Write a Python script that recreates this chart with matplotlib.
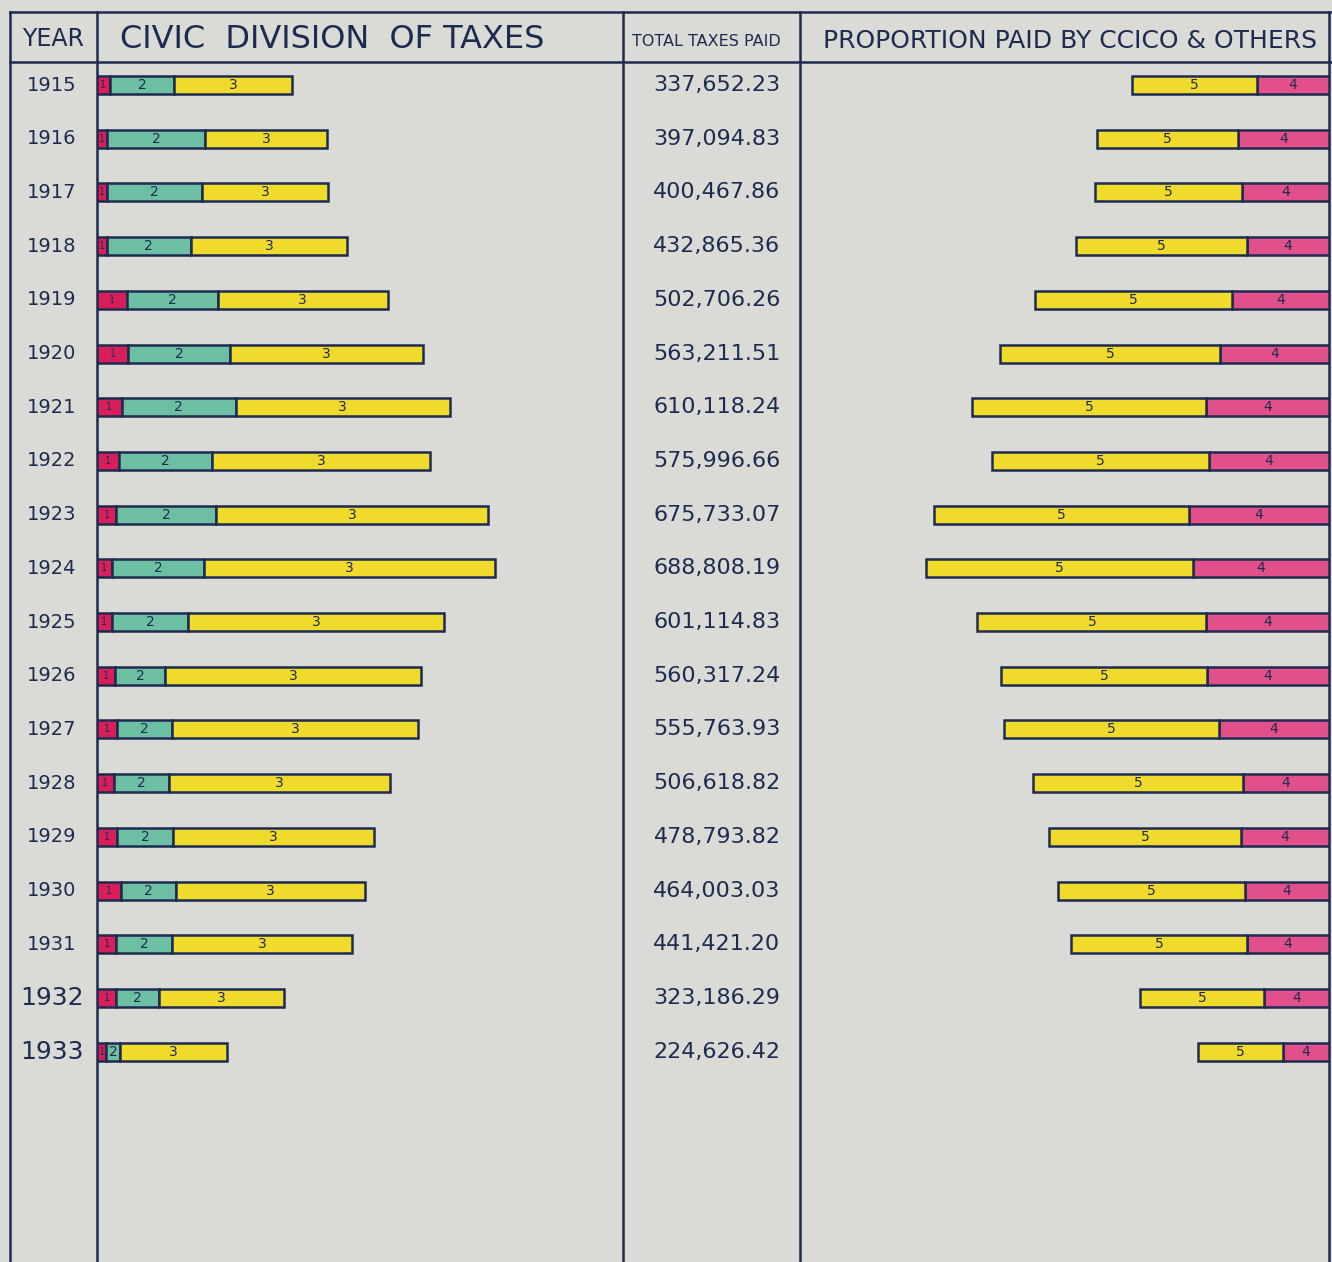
import numpy as np
import matplotlib.pyplot as plt
from matplotlib.transforms import blended_transform_factory

# tax records 1915-1933
years = [1915, 1916, 1917, 1918, 1919, 1920, 1921, 1922, 1923, 1924,
         1925, 1926, 1927, 1928, 1929, 1930, 1931, 1932, 1933]
total_paid = [337652.23, 397094.83, 400467.86, 432865.36, 502706.26,
              563211.51, 610118.24, 575996.66, 675733.07, 688808.19,
              601114.83, 560317.24, 555763.93, 506618.82, 478793.82,
              464003.03, 441421.20, 323186.29, 224626.42]

# civic division (thousands of $): parts 1 and 2, part 3 takes the rest
part1 = [22, 17, 17, 17, 52, 54, 43, 38, 33, 26, 26, 31, 35, 29, 35, 42, 33, 33, 16]
part2 = [112, 170, 164, 145, 157, 176, 197, 161, 173, 159, 131, 87, 95, 95, 97, 95, 97, 74, 24]

# paid by others (4), thousands of $; CCICO (5) is the remainder
others = [123, 156, 149, 140, 166, 186, 210, 205, 239, 233, 210, 209, 188, 147, 150, 144, 140, 111, 79]

W, H = 1332, 1262
PAPER = '#dadad6'
INK = '#1d2b50'
RED = '#d81f5c'
TEAL = '#6cbfa3'
YELLOW = '#f0da2c'
PINK = '#e2508c'

total_k = np.array(total_paid) / 1000.0
p1 = np.array(part1, dtype=float)
p2 = np.array(part2, dtype=float)
p3 = total_k - p1 - p2
oth = np.array(others, dtype=float)
cci = total_k - oth
rows = np.arange(len(years))

row0, pitch = 85, 53.7
bar_h = 18 / pitch


def px_box(x0, y0, x1, y1):
    return [x0 / W, 1 - y1 / H, (x1 - x0) / W, (y1 - y0) / H]


fig = plt.figure(figsize=(W / 100, H / 100), dpi=100)
fig.patch.set_facecolor(PAPER)

# ruled table drawn in pixel units
bg = fig.add_axes([0, 0, 1, 1])
bg.set_xlim(0, W)
bg.set_ylim(H, 0)
bg.axis('off')
lw = 1.8
bg.plot([10, W], [12, 12], color=INK, lw=lw)
bg.plot([10, W], [62, 62], color=INK, lw=lw)
for x in [10, 97, 623, 800, 1329]:
    bg.plot([x, x], [12, H], color=INK, lw=lw)

hdr = dict(color=INK, va='center', family='DejaVu Sans')
bg.text(53, 39, 'YEAR', ha='center', fontsize=17, **hdr)
bg.text(120, 39, 'CIVIC  DIVISION  OF TAXES', ha='left', fontsize=23, **hdr)
bg.text(706, 41, 'TOTAL TAXES PAID', ha='center', fontsize=11.5, **hdr)
bg.text(1070, 41, 'PROPORTION PAID BY CCICO & OTHERS', ha='center', fontsize=18, **hdr)

y_lim = ((H - row0) / pitch, -(row0 - 62) / pitch)

# civic division bars
ax_l = fig.add_axes(px_box(97, 62, 623, H))
ax_l.set_xlim(0, 526 * 1.73)
ax_l.set_ylim(*y_lim)
ax_l.axis('off')
edge = dict(edgecolor=INK, linewidth=1.8, height=bar_h)
ax_l.barh(rows, p1, color=RED, **edge)
ax_l.barh(rows, p2, left=p1, color=TEAL, **edge)
ax_l.barh(rows, p3, left=p1 + p2, color=YELLOW, **edge)
for i in rows:
    ax_l.text(p1[i] / 2, i, '1', ha='center', va='center', fontsize=7, color=INK)
    ax_l.text(p1[i] + p2[i] / 2, i, '2', ha='center', va='center', fontsize=10, color=INK)
    ax_l.text(p1[i] + p2[i] + p3[i] / 2, i, '3', ha='center', va='center', fontsize=10,
              color=INK)

# year and total columns
tr = blended_transform_factory(bg.transData, ax_l.transData)
for i, (yr, tot) in enumerate(zip(years, total_paid)):
    size = 18 if yr >= 1932 else 14
    bg.text(52, i, str(yr), transform=tr, ha='center', va='center',
            fontsize=size, color=INK)
    bg.text(717, i, f'{tot:,.2f}', transform=tr, ha='center', va='center',
            fontsize=16, color=INK)

# CCICO / others bars, anchored at the right edge
ax_r = fig.add_axes(px_box(800, 62, 1329, H))
ax_r.set_xlim(529 * 1.71, 0)
ax_r.set_ylim(*y_lim)
ax_r.axis('off')
ax_r.barh(rows, oth, color=PINK, **edge)
ax_r.barh(rows, cci, left=oth, color=YELLOW, **edge)
for i in rows:
    ax_r.text(oth[i] / 2, i, '4', ha='center', va='center', fontsize=10, color=INK)
    ax_r.text(oth[i] + cci[i] / 2, i, '5', ha='center', va='center', fontsize=10,
              color=INK)

fig.savefig('out.png', dpi=100, facecolor=PAPER)
